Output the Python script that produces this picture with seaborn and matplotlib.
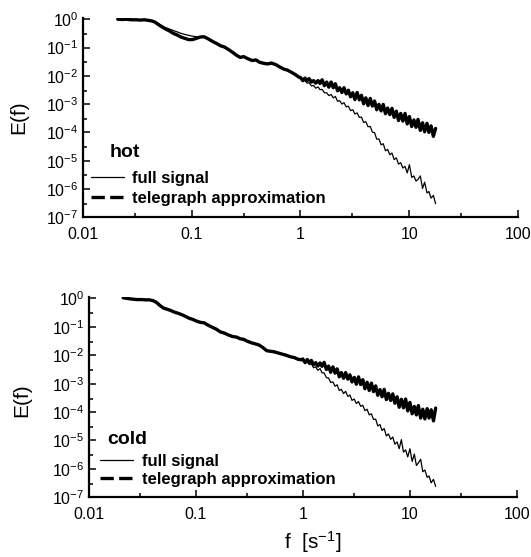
import numpy as np
import pandas as pd
import matplotlib
matplotlib.use("Agg")
import matplotlib.pyplot as plt
import seaborn as sns
from matplotlib.lines import Line2D
from matplotlib.ticker import FixedLocator, NullFormatter, FixedFormatter
from matplotlib.font_manager import FontProperties

# ---------------- data ----------------
freq = [0.021, 0.023, 0.025, 0.028, 0.031, 0.034, 0.037, 0.040, 0.043, 0.046,
        0.050, 0.054, 0.058, 0.063, 0.068, 0.074, 0.080, 0.087, 0.094, 0.102,
        0.11, 0.12, 0.13, 0.14, 0.155, 0.17, 0.185, 0.20, 0.22, 0.24,
        0.26, 0.28, 0.30, 0.33, 0.36, 0.39, 0.42, 0.46, 0.50, 0.54,
        0.59, 0.64, 0.70, 0.76, 0.83, 0.90, 0.97,
        1.00, 1.05, 1.10, 1.15, 1.20, 1.26, 1.32, 1.38, 1.45, 1.51,
        1.58, 1.66, 1.74, 1.82, 1.91, 2.00, 2.09, 2.19, 2.29, 2.40,
        2.51, 2.63, 2.75, 2.88, 3.02, 3.16, 3.31, 3.47, 3.63, 3.80,
        3.98, 4.17, 4.37, 4.57, 4.79, 5.01, 5.25, 5.50, 5.75, 6.03,
        6.31, 6.61, 6.92, 7.24, 7.59, 7.94, 8.32, 8.71, 9.12, 9.55,
        10.0, 10.5, 11.0, 11.5, 12.0, 12.6, 13.2, 13.8, 14.5, 15.1,
        15.8, 16.6, 17.4]

# log10 E(f)
hot_full_log10 = [
    -0.01, 0.00, -0.02, -0.01, -0.03, -0.02, -0.04, -0.03, -0.05, -0.09,
    -0.16, -0.24, -0.30, -0.35, -0.40, -0.45, -0.50, -0.54, -0.57, -0.60,
    -0.62, -0.62, -0.64, -0.70, -0.80, -0.84, -0.96, -1.00, -1.06, -1.20,
    -1.26, -1.33, -1.34, -1.38, -1.48, -1.42, -1.54, -1.54, -1.60, -1.57,
    -1.62, -1.66, -1.78, -1.82, -1.86, -1.98, -2.07,
    -2.10, -2.20, -2.17, -2.26, -2.24, -2.36, -2.34, -2.44, -2.39, -2.49,
    -2.48, -2.60, -2.60, -2.70, -2.66, -2.78, -2.73, -2.90, -2.88, -3.00,
    -2.95, -3.10, -3.07, -3.23, -3.20, -3.35, -3.31, -3.47, -3.46, -3.65,
    -3.62, -3.80, -3.79, -3.99, -4.01, -4.24, -4.23, -4.44, -4.40, -4.65,
    -4.60, -4.79, -4.73, -4.96, -4.90, -5.12, -5.07, -5.26, -5.20, -5.43,
    -5.14, -5.59, -5.54, -5.72, -5.66, -5.54, -5.98, -5.76, -6.14, -6.09,
    -6.32, -6.23, -6.52]

hot_telegraph_log10 = [
    0.00, -0.01, 0.00, -0.02, -0.02, -0.03, -0.02, -0.04, -0.06, -0.10,
    -0.20, -0.28, -0.35, -0.42, -0.50, -0.56, -0.63, -0.68, -0.72, -0.72,
    -0.68, -0.63, -0.62, -0.68, -0.78, -0.86, -0.94, -0.98, -1.08, -1.18,
    -1.28, -1.35, -1.32, -1.40, -1.46, -1.44, -1.52, -1.56, -1.58, -1.55,
    -1.60, -1.68, -1.76, -1.80, -1.88, -1.96, -2.05,
    -2.06, -2.17, -2.08, -2.17, -2.10, -2.22, -2.17, -2.26, -2.17, -2.27,
    -2.14, -2.35, -2.22, -2.40, -2.22, -2.42, -2.28, -2.53, -2.42, -2.59,
    -2.42, -2.64, -2.51, -2.74, -2.60, -2.84, -2.59, -2.85, -2.69, -2.99,
    -2.78, -3.05, -2.80, -3.07, -2.89, -3.20, -3.01, -3.24, -3.01, -3.34,
    -3.14, -3.37, -3.15, -3.47, -3.25, -3.58, -3.33, -3.60, -3.33, -3.70,
    -3.44, -3.79, -3.56, -3.82, -3.54, -3.93, -3.66, -3.98, -3.68, -4.00,
    -3.77, -4.14, -3.86]

cold_full_log10 = [
    0.00, 0.01, -0.03, -0.03, -0.05, -0.04, -0.06, -0.07, -0.12, -0.22,
    -0.32, -0.36, -0.40, -0.46, -0.50, -0.56, -0.61, -0.68, -0.72, -0.78,
    -0.82, -0.88, -0.92, -0.98, -1.06, -1.16, -1.24, -1.26, -1.32, -1.38,
    -1.40, -1.46, -1.48, -1.54, -1.62, -1.62, -1.70, -1.82, -1.88, -1.86,
    -1.94, -1.94, -2.02, -2.04, -2.10, -2.12, -2.18,
    -2.15, -2.27, -2.22, -2.33, -2.30, -2.44, -2.41, -2.53, -2.47, -2.62,
    -2.62, -2.79, -2.80, -2.96, -2.94, -3.09, -3.04, -3.24, -3.20, -3.35,
    -3.27, -3.45, -3.40, -3.59, -3.54, -3.70, -3.63, -3.80, -3.76, -3.95,
    -3.90, -4.10, -4.06, -4.26, -4.25, -4.49, -4.44, -4.65, -4.58, -4.84,
    -4.77, -4.96, -4.88, -5.13, -5.05, -5.29, -4.97, -5.41, -5.33, -5.58,
    -5.29, -5.74, -5.48, -5.88, -5.79, -5.66, -6.10, -6.04, -6.30, -6.25,
    -6.49, -6.37, -6.62]

cold_telegraph_log10 = [
    0.02, 0.00, -0.02, -0.04, -0.04, -0.05, -0.05, -0.08, -0.14, -0.24,
    -0.34, -0.38, -0.42, -0.48, -0.52, -0.57, -0.63, -0.70, -0.74, -0.80,
    -0.84, -0.86, -0.94, -1.00, -1.08, -1.18, -1.22, -1.28, -1.34, -1.36,
    -1.42, -1.44, -1.50, -1.56, -1.60, -1.64, -1.72, -1.84, -1.86, -1.88,
    -1.92, -1.96, -2.00, -2.05, -2.08, -2.14, -2.16,
    -2.13, -2.26, -2.15, -2.27, -2.18, -2.33, -2.26, -2.38, -2.27, -2.39,
    -2.25, -2.50, -2.38, -2.60, -2.41, -2.63, -2.48, -2.76, -2.61, -2.81,
    -2.61, -2.84, -2.69, -2.94, -2.78, -3.02, -2.76, -3.03, -2.86, -3.18,
    -2.95, -3.24, -2.98, -3.28, -3.08, -3.41, -3.21, -3.46, -3.20, -3.56,
    -3.34, -3.59, -3.36, -3.69, -3.46, -3.83, -3.55, -3.85, -3.54, -3.96,
    -3.66, -4.06, -3.80, -4.10, -3.77, -4.21, -3.90, -4.24, -3.88, -4.21,
    -3.92, -4.31, -3.86]

panels = ["hot", "cold"]
series_labels = ["full signal", "telegraph approximation"]
x_ticks = [0.01, 0.1, 1, 10, 100]
x_tick_labels = ["0.01", "0.1", "1", "10", "100"]
x_minor = [0.03, 0.3, 3, 30]
y_ticks = [1e-7, 1e-6, 1e-5, 1e-4, 1e-3, 1e-2, 1e-1, 1e0]
y_tick_labels = [r"$10^{-7}$", r"$10^{-6}$", r"$10^{-5}$", r"$10^{-4}$",
                 r"$10^{-3}$", r"$10^{-2}$", r"$10^{-1}$", r"$10^{0}$"]
y_minor = [3e-7, 3e-6, 3e-5, 3e-4, 3e-3, 3e-2, 3e-1]

# ---------------- style ----------------
sns.set_style("white")
plt.rcParams["font.family"] = ["Liberation Sans", "DejaVu Sans"]
plt.rcParams["mathtext.fontset"] = "custom"
plt.rcParams["mathtext.rm"] = "Liberation Sans"
plt.rcParams["mathtext.it"] = "Liberation Sans:italic"
plt.rcParams["mathtext.bf"] = "Liberation Sans:bold"
plt.rcParams["text.color"] = "black"
plt.rcParams["axes.labelcolor"] = "black"
plt.rcParams["xtick.color"] = "black"
plt.rcParams["ytick.color"] = "black"

fig = plt.figure(figsize=(5.31, 5.57), dpi=100)
ax_hot = fig.add_axes([0.1557, 0.6099, 0.8204, 0.3583])
ax_cold = fig.add_axes([0.1670, 0.1072, 0.8066, 0.3601])

data = {
    "hot": (hot_full_log10, hot_telegraph_log10),
    "cold": (cold_full_log10, cold_telegraph_log10),
}
ytops = {"hot": 1.13, "cold": 1.15}
tele_lw = 2.4
full_lw = 0.9

for ax, name in zip([ax_hot, ax_cold], panels):
    full, tele = data[name]
    df = pd.DataFrame({
        "f": freq + freq,
        "E": list(10 ** np.array(full)) + list(10 ** np.array(tele)),
        "series": [series_labels[0]] * len(freq) + [series_labels[1]] * len(freq),
    })
    sns.lineplot(data=df[df.series == series_labels[1]], x="f", y="E",
                 color="black", linewidth=tele_lw, estimator=None, sort=False,
                 ax=ax, legend=False)
    sns.lineplot(data=df[df.series == series_labels[0]], x="f", y="E",
                 color="black", linewidth=full_lw, estimator=None, sort=False,
                 ax=ax, legend=False)
    ax.set_xscale("log")
    ax.set_yscale("log")
    ax.set_xlim(0.01, 100)
    ax.set_ylim(1e-7, ytops[name])
    ax.xaxis.set_major_locator(FixedLocator(x_ticks))
    ax.xaxis.set_major_formatter(FixedFormatter(x_tick_labels))
    ax.xaxis.set_minor_locator(FixedLocator(x_minor))
    ax.xaxis.set_minor_formatter(NullFormatter())
    ax.yaxis.set_major_locator(FixedLocator(y_ticks))
    ax.yaxis.set_major_formatter(FixedFormatter(y_tick_labels))
    ax.yaxis.set_minor_locator(FixedLocator(y_minor))
    ax.yaxis.set_minor_formatter(NullFormatter())
    ax.set_xlabel("")
    ax.set_ylabel("")
    for s in ["top", "right"]:
        ax.spines[s].set_visible(False)
    for s in ["left", "bottom"]:
        ax.spines[s].set_linewidth(1.6)
        ax.spines[s].set_color("black")
    ax.tick_params(which="both", direction="in", color="black", width=1.1,
                   labelsize=11.5, labelcolor="black")
    ax.tick_params(which="major", length=5)
    ax.tick_params(which="minor", length=3)
    ax.tick_params(axis="x", which="both", pad=7, bottom=True)
    ax.tick_params(axis="y", which="both", pad=3, left=True)
    ax.grid(False)

handles = [Line2D([], [], color="black", lw=full_lw),
           Line2D([], [], color="black", lw=tele_lw, linestyle=(0, (4.0, 1.6)))]
legprop = FontProperties(family="Liberation Sans", weight="bold", size=12)

ax_hot.text(0.063, 0.327, "hot", transform=ax_hot.transAxes, fontsize=14,
            fontweight="bold", ha="left", va="center", color="black")
ax_hot.legend(handles, series_labels, loc="lower left",
              bbox_to_anchor=(0.019, 0.055), frameon=False, prop=legprop,
              handlelength=2.0, handletextpad=0.45, labelspacing=0.3,
              borderpad=0, borderaxespad=0, labelcolor="black")

ax_cold.text(0.043, 0.29, "cold", transform=ax_cold.transAxes, fontsize=14,
             fontweight="bold", ha="left", va="center", color="black")
ax_cold.legend(handles, series_labels, loc="lower left",
               bbox_to_anchor=(0.026, 0.05), frameon=False, prop=legprop,
               handlelength=2.0, handletextpad=0.55, labelspacing=0.2,
               borderpad=0, borderaxespad=0, labelcolor="black")

fig.text(19 / 531, 1 - 117 / 557, "E(f)", rotation=90, ha="center",
         va="center", fontsize=15)
fig.text(22 / 531, 1 - 400 / 557, "E(f)", rotation=90, ha="center",
         va="center", fontsize=15)
fig.text(313 / 531, 1 - 542 / 557, r"f  [s$^{-1}$]", ha="center",
         va="center", fontsize=15)

fig.savefig("out.png", dpi=100, facecolor="white")
